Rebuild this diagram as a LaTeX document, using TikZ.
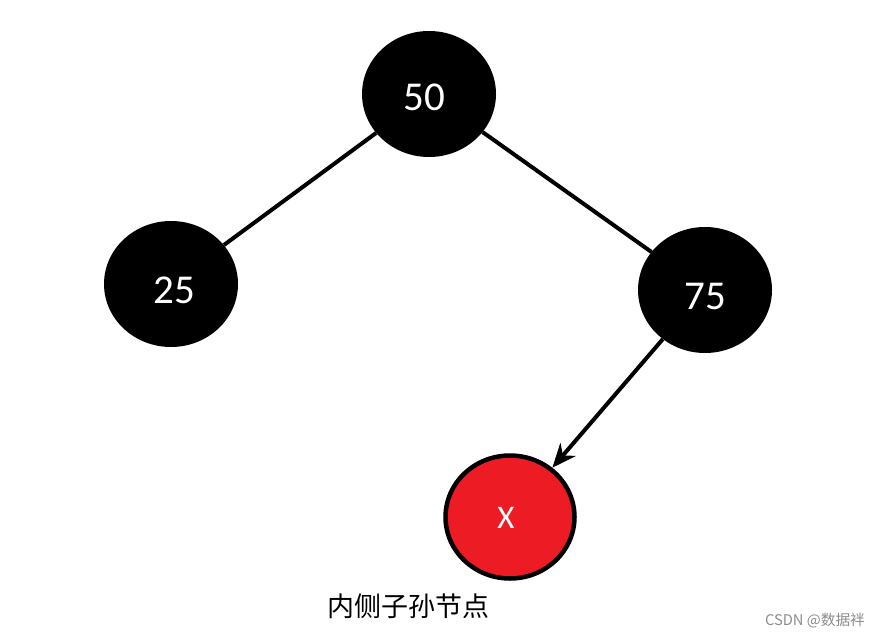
\documentclass[tikz,border=0pt]{standalone}
\usepackage{fontspec}
\setmainfont{Carlito}
\newfontfamily\cjk{Noto Sans CJK SC}
\usetikzlibrary{shapes.geometric,arrows.meta}
\definecolor{xred}{HTML}{ED1C24}
\tikzset{
  blk/.style={ellipse, fill=black, minimum width=134pt, minimum height=126pt, inner sep=0pt, text=white, font=\fontsize{41}{41}\selectfont},
  rednode/.style={ellipse, fill=xred, draw=black, line width=4.5pt, minimum width=129pt, minimum height=123pt, inner sep=0pt, text=white, font=\fontsize{33}{33}\selectfont},
  edge/.style={line width=4pt, draw=black},
}
\begin{document}
\begin{tikzpicture}[x=1pt,y=-1pt]
\useasboundingbox (0,0) rectangle (880,639);
\node[blk] (n50) at (429,94) {};
\node[blk] (n25) at (171,284) {};
\node[blk] (n75) at (705,290) {};
\node[rednode] (nx) at (510,517) {};
\node[text=white, font=\fontsize{41}{41}\selectfont] (t50) at (424,97) {50};
\node[text=white, font=\fontsize{41}{41}\selectfont] (t25) at (174,290) {25};
\node[text=white, font=\fontsize{41}{41}\selectfont] (t75) at (705,296) {75};
\node[text=white, font=\fontsize{33}{33}\selectfont] (tx) at (506,518) {X};
\draw[edge] (n50) -- (n25);
\draw[edge] (n50) -- (n75);
\draw[edge, -{Stealth[length=24pt,width=20pt]}] (n75) -- (nx);
\node[font=\cjk\fontsize{27}{27}\selectfont] (lbl) at (408,606) {内侧子孙节点};
\node[font=\cjk\fontsize{14.7}{14.7}\selectfont, text=black!45] (wm) at (815,621) {CSDN @数据袢};
\end{tikzpicture}
\end{document}
